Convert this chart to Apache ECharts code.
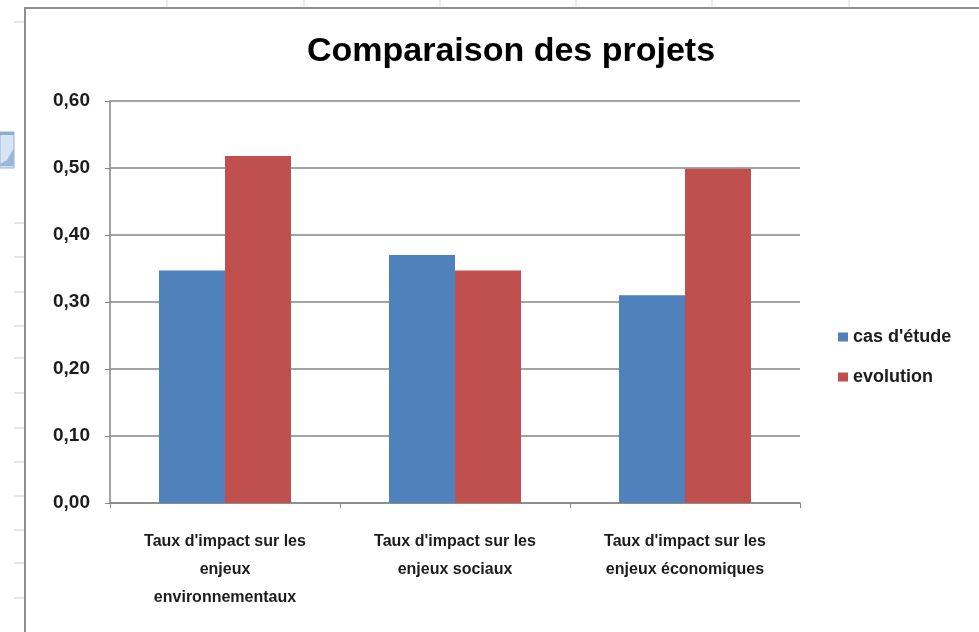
<!DOCTYPE html>
<html>
<head>
<meta charset="utf-8">
<script src="https://cdn.jsdelivr.net/npm/echarts@6/dist/echarts.min.js"></script>
<style>
  html, body { margin: 0; padding: 0; background: #ffffff; }
  #chart { width: 979px; height: 632px; }
</style>
</head>
<body>
<div id="chart"></div>
<script>
const chartTitle = "Comparaison des projets";
const categories = [
  "Taux d'impact sur les\nenjeux\nenvironnementaux",
  "Taux d'impact sur les\nenjeux sociaux",
  "Taux d'impact sur les\nenjeux économiques"
];
const seriesNames = ["cas d'étude", "evolution"];
const casEtude = [0.347, 0.370, 0.310];
const evolution = [0.518, 0.347, 0.499];
const yTicks = [0, 0.6, 0.1]; // min, max, interval

const FONT = '"Liberation Sans", Arial, sans-serif';
const GRID = '#868686';
const TXT = '#1c1c1c';

// spreadsheet decoration behind the chart object
const deco = [];
[167, 304, 440, 576, 712, 849].forEach(x => {
  deco.push({ type: 'line', shape: { x1: x, y1: 0, x2: x, y2: 8 }, style: { stroke: '#d0d7e5', lineWidth: 1 }, silent: true });
});
[22, 223, 257, 292, 326, 358, 393, 428, 462, 496, 530, 563, 598].forEach(y => {
  deco.push({ type: 'line', shape: { x1: 14, y1: y, x2: 24, y2: y }, style: { stroke: '#c8cdd6', lineWidth: 1 }, silent: true });
});
deco.push({ type: 'rect', shape: { x: 0, y: 132, width: 14, height: 36 }, style: { fill: '#d6e4f5', stroke: '#9bb3d6', lineWidth: 1 }, silent: true });
deco.push({ type: 'rect', shape: { x: 0, y: 132, width: 14, height: 3 }, style: { fill: '#8fa9cf' }, silent: true });
deco.push({ type: 'polygon', shape: { points: [[0, 164], [7, 160], [14, 148], [14, 166], [0, 166]] }, style: { fill: '#9db7dc' }, silent: true });
deco.push({ type: 'rect', shape: { x: 25, y: 8, width: 980, height: 640 }, style: { fill: 'none', stroke: '#8f8f8f', lineWidth: 2 }, silent: true, z: 10 });

const chart = echarts.init(document.getElementById('chart'), null, { renderer: 'canvas' });
chart.setOption({
  backgroundColor: '#ffffff',
  animation: false,
  title: {
    text: chartTitle,
    left: 506,
    textAlign: 'center',
    top: 30,
    textStyle: { fontFamily: FONT, fontSize: 34, fontWeight: 'bold', color: '#000000' }
  },
  graphic: deco,
  legend: {
    orient: 'vertical',
    left: 833,
    top: 323,
    itemWidth: 10,
    itemHeight: 9,
    itemGap: 22,
    icon: 'rect',
    textStyle: { fontFamily: FONT, fontSize: 18, fontWeight: 'bold', color: TXT },
    data: seriesNames
  },
  grid: { left: 110, right: 179, top: 101, bottom: 129 },
  xAxis: {
    type: 'category',
    data: categories,
    axisLine: { lineStyle: { color: GRID, width: 1.5 } },
    axisTick: { show: true, length: 5, lineStyle: { color: GRID } },
    axisLabel: {
      fontFamily: FONT, fontSize: 16, fontWeight: 'bold', color: TXT,
      lineHeight: 28, margin: 25, interval: 0
    }
  },
  yAxis: {
    type: 'value',
    min: yTicks[0], max: yTicks[1], interval: yTicks[2],
    axisLine: { show: true, lineStyle: { color: GRID, width: 1.5 } },
    axisTick: { show: true, length: 5, lineStyle: { color: GRID } },
    splitLine: { show: true, lineStyle: { color: GRID, width: 1.5 } },
    axisLabel: {
      fontFamily: FONT, fontSize: 19, fontWeight: 'bold', color: TXT, margin: 20,
      formatter: v => v.toFixed(2).replace('.', ',')
    }
  },
  series: [
    { name: seriesNames[0], type: 'bar', data: casEtude, barWidth: 66, barGap: '0%', itemStyle: { color: '#4F81BD' } },
    { name: seriesNames[1], type: 'bar', data: evolution, barWidth: 66, barGap: '0%', itemStyle: { color: '#C0504D' } }
  ]
});
</script>
</body>
</html>
